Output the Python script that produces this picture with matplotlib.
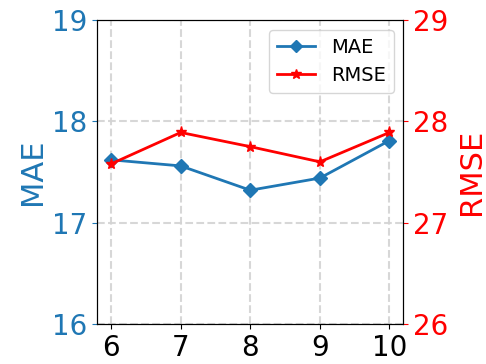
import matplotlib
matplotlib.use("Agg")
import matplotlib.pyplot as plt

windows = [6, 7, 8, 9, 10]
mae = [17.62, 17.56, 17.32, 17.44, 17.81]
rmse = [27.58, 27.89, 27.75, 27.60, 27.89]

fig, ax1 = plt.subplots(figsize=(4.86, 3.64), dpi=100)
ax2 = ax1.twinx()

l1, = ax1.plot(windows, mae, color="tab:blue", marker="D", markersize=7, linewidth=2, label="MAE")
l2, = ax2.plot(windows, rmse, color="red", marker="*", markersize=8, linewidth=2, label="RMSE")

ax1.set_ylim(16, 19)
ax2.set_ylim(26, 29)
ax1.set_yticks([16, 17, 18, 19])
ax2.set_yticks([26, 27, 28, 29])
ax1.set_xticks(windows)

ax1.set_ylabel("MAE", color="tab:blue", fontsize=22)
ax2.set_ylabel("RMSE", color="red", fontsize=22, labelpad=6)
ax1.tick_params(axis="y", colors="tab:blue", labelsize=20)
ax2.tick_params(axis="y", colors="red", labelsize=20)
ax1.tick_params(axis="x", labelsize=20)

ax1.grid(True, linestyle="--", linewidth=1.5, color="lightgray", alpha=0.9)

ax1.legend([l1, l2], ["MAE", "RMSE"], loc="upper right", fontsize=14, markerscale=0.9)

fig.subplots_adjust(left=0.2, right=0.83, top=0.945, bottom=0.11)
fig.savefig("out.png", dpi=100)
